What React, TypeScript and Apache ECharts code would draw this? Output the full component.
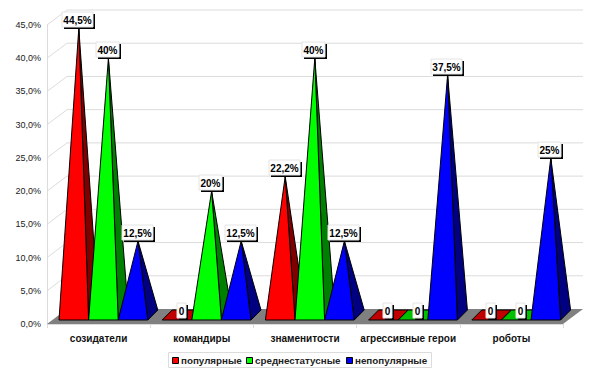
import React, { useEffect, useRef } from "react";
import * as echarts from "echarts";

const categories = ["созидатели", "командиры", "знаменитости", "агрессивные герои", "роботы"];
const seriesNames = ["популярные", "среднестатусные", "непопулярные"];
const popular = [44.5, 0, 22.2, 0, 0];
const average = [40, 20, 40, 0, 0];
const unpopular = [12.5, 12.5, 12.5, 37.5, 25];
const popularLabels = ["44,5%", "0", "22,2%", "0", "0"];
const averageLabels = ["40%", "20%", "40%", "0", "0"];
const unpopularLabels = ["12,5%", "12,5%", "12,5%", "37,5%", "25%"];
const gridTicks = [0, 5, 10, 15, 20, 25, 30, 35, 40, 45];

const FONT = "'Liberation Sans', Arial, sans-serif";
const frontColors = ["#ff0000", "#00ff00", "#0000ff"];
const sideColors = ["#800000", "#008000", "#000080"];
const flatColors = ["#c00000", "#00c000", "#0000c0"];
const DX = 20, DY = 15, BW = 29.6, BD = 10;
const legendSwatchX = [172, 246, 346];

const measure = (() => {
  const ctx = document.createElement("canvas").getContext("2d")!;
  return (s: string) => {
    ctx.font = "bold 10px " + FONT;
    return ctx.measureText(s).width;
  };
})();

function geometry(j: number, api: any) {
  const i = api.value(0);
  const v = api.value(1);
  const [cx, y0] = api.coord([i, 0]);
  const [, ya] = api.coord([i, v]);
  const x = cx - 39.6 + j * BW;
  const by = y0 - 4;
  const ax = x + BW / 2 + BD / 2;
  const apexY = v === 0 ? by - BD / 2 : ya;
  return { v, x, by, ax, apexY };
}

function pyramid(j: number) {
  return (_params: any, api: any) => {
    const { v, x, by, ax, apexY } = geometry(j, api);
    const stroke = { stroke: "#000", lineWidth: 1 };
    const children: any[] = [];
    if (v === 0) {
      children.push({
        type: "polygon",
        shape: { points: [[x, by], [x + BW, by], [x + BW + BD, by - BD], [x + BD, by - BD]] },
        style: { fill: flatColors[j], ...stroke },
      });
    } else {
      children.push({
        type: "polygon",
        shape: { points: [[x + BW, by], [x + BW + BD, by - BD], [ax, apexY]] },
        style: { fill: sideColors[j], ...stroke },
      });
      children.push({
        type: "polygon",
        shape: { points: [[x, by], [x + BW, by], [ax, apexY]] },
        style: { fill: frontColors[j], ...stroke },
      });
    }
    return { type: "group", children };
  };
}

function labelBox(j: number, labels: string[]) {
  return (params: any, api: any) => {
    const { v, ax, apexY } = geometry(j, api);
    const label = labels[params.dataIndex];
    const w = Math.round(measure(label)) + 3;
    const h = 15;
    const lx = Math.round(ax - w / 2 - 1);
    const ly = Math.round(apexY - h - 1 + (v === 0 ? 4 : 0));
    return {
      type: "group",
      children: [
        { type: "rect", shape: { x: lx + 2, y: ly + 2, width: w, height: h }, style: { fill: "#000" } },
        { type: "rect", shape: { x: lx, y: ly, width: w, height: h }, style: { fill: "#fff", stroke: "#e4e4e4", lineWidth: 1 } },
        {
          type: "text",
          x: lx + w / 2, y: ly + h / 2 + 0.5,
          style: { text: label, fill: "#000", font: "bold 10px " + FONT, align: "center", verticalAlign: "middle" },
        },
      ],
    };
  };
}

function renderBackdrop(params: any, api: any) {
  const v = api.value(0);
  const x0 = params.coordSys.x;
  const x1 = x0 + params.coordSys.width;
  const y = api.coord([0, v])[1];
  const line = { stroke: "#dcdcdc", lineWidth: 1 };
  const children: any[] = [];
  if (v === 0) {
    children.push({
      type: "polygon",
      shape: { points: [[x0, y], [x0 + DX, y - DY], [x1 + DX, y - DY], [x1, y]] },
      style: { fill: "#808080" },
    });
  } else {
    children.push({
      type: "polyline",
      shape: { points: [[x0, y], [x0 + DX, y - DY], [x1 + DX, y - DY]] },
      style: { fill: "none", ...line },
    });
  }
  return { type: "group", children };
}

const zip = (vals: number[]) => vals.map((v, i) => [i, v]);

export default function App() {
  const ref = useRef<HTMLDivElement>(null);
  useEffect(() => {
    document.body.style.margin = "0";
    const chart = echarts.init(ref.current!, undefined, { renderer: "svg" });
    const common = { type: "custom" as const, coordinateSystem: "cartesian2d", clip: false, encode: { x: 0, y: 1 }, silent: true };
    const legendElements: any[] = [
      { type: "rect", shape: { x: 168.5, y: 352.5, width: 263, height: 15 }, style: { fill: "#fff", stroke: "#dcdcdc", lineWidth: 1 } },
    ];
    seriesNames.forEach((name, j) => {
      legendElements.push(
        { type: "rect", shape: { x: legendSwatchX[j] + 0.5, y: 357.5, width: 6, height: 6 }, style: { fill: frontColors[j], stroke: "#000", lineWidth: 1 } },
        {
          type: "text", x: legendSwatchX[j] + 9, y: 360.5,
          style: { text: name, fill: "#222", font: "bold 9.8px " + FONT, align: "left", verticalAlign: "middle" },
        }
      );
    });
    chart.setOption({
      animation: false,
      backgroundColor: "#fff",
      grid: { left: 47, right: 37, top: 25, bottom: 49 },
      graphic: { elements: legendElements },
      xAxis: {
        type: "category",
        data: categories,
        boundaryGap: true,
        axisLine: { lineStyle: { color: "#dcdcdc" } },
        axisTick: { show: true, interval: 0, length: 4, alignWithLabel: false, lineStyle: { color: "#dcdcdc" } },
        axisLabel: { interval: 0, fontFamily: FONT, fontSize: 10, fontWeight: "bold", color: "#111", margin: 9 },
        splitLine: { show: false },
      },
      yAxis: {
        type: "value",
        min: 0,
        max: 45,
        interval: 5,
        axisLine: { show: true, lineStyle: { color: "#dcdcdc" } },
        axisTick: { show: false },
        splitLine: { show: false },
        axisLabel: {
          fontFamily: FONT, fontSize: 9, color: "#222", margin: 6,
          formatter: (v: number) => v.toFixed(1).replace(".", ",") + "%",
        },
      },
      series: [
        { ...common, name: "сетка", renderItem: renderBackdrop, data: gridTicks.map((v) => [v]), encode: { y: 0 }, z: 1 },
        { ...common, name: seriesNames[0], renderItem: pyramid(0), data: zip(popular), z: 2 },
        { ...common, name: seriesNames[1], renderItem: pyramid(1), data: zip(average), z: 3 },
        { ...common, name: seriesNames[2], renderItem: pyramid(2), data: zip(unpopular), z: 4 },
        { ...common, name: seriesNames[0] + " подписи", renderItem: labelBox(0, popularLabels), data: zip(popular), z: 5 },
        { ...common, name: seriesNames[1] + " подписи", renderItem: labelBox(1, averageLabels), data: zip(average), z: 6 },
        { ...common, name: seriesNames[2] + " подписи", renderItem: labelBox(2, unpopularLabels), data: zip(unpopular), z: 7 },
      ],
    });
    return () => chart.dispose();
  }, []);
  return <div ref={ref} style={{ width: 600, height: 373 }} />;
}
